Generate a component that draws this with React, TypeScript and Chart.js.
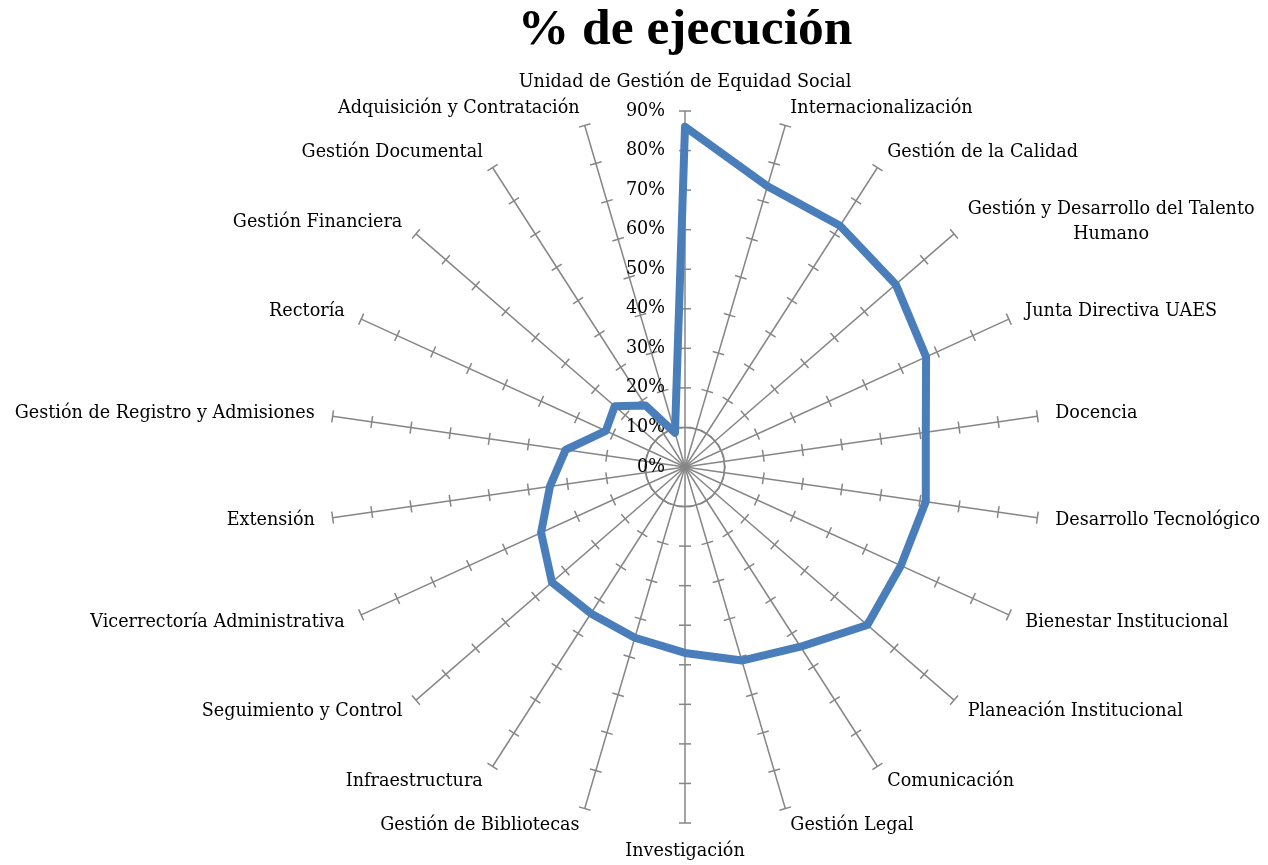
import React, { useEffect, useRef } from "react";
import { Chart, registerables } from "chart.js";

Chart.register(...registerables);

const categories: (string | string[])[] = [
  "Unidad de Gestión de Equidad Social",
  "Internacionalización",
  "Gestión de la Calidad",
  ["Gestión y Desarrollo del Talento", "Humano"],
  "Junta Directiva UAES",
  "Docencia",
  "Desarrollo Tecnológico",
  "Bienestar Institucional",
  "Planeación Institucional",
  "Comunicación",
  "Gestión Legal",
  "Investigación",
  "Gestión de Bibliotecas",
  "Infraestructura",
  "Seguimiento y Control",
  "Vicerrectoría Administrativa",
  "Extensión",
  "Gestión de Registro y Admisiones",
  "Rectoría",
  "Gestión Financiera",
  "Gestión Documental",
  "Adquisición y Contratación",
];

const ejecucion = [
  86, 74, 72.5, 70.5, 67, 61.5, 61.5, 60, 61, 54, 51, 47, 45, 44, 44.5, 40,
  34.5, 30.5, 22, 23.5, 18.5, 9,
];

const tickValues = [0, 10, 20, 30, 40, 50, 60, 70, 80, 90];
const tickLabels = ["0%", "10%", "20%", "30%", "40%", "50%", "60%", "70%", "80%", "90%"];

const AXIS_COLOR = "#868686";
const LINE_COLOR = "#4A7EBB";
const LABEL_FONT_SIZE = 17.6;
const LABEL_FONT = `${LABEL_FONT_SIZE}px "DejaVu Serif"`;

const radarDecor = {
  id: "radarDecor",
  beforeDatasetsDraw(chart: any) {
    const s = chart.scales.r;
    const ctx = chart.ctx as CanvasRenderingContext2D;
    const labels = chart.data.labels as (string | string[])[];
    const n = labels.length;
    ctx.save();
    // tick marks across each spoke
    ctx.strokeStyle = AXIS_COLOR;
    ctx.lineWidth = 1.5;
    for (let i = 0; i < n; i++) {
      for (const v of tickValues) {
        if (v === tickValues[0]) continue;
        const d = s.getDistanceFromCenterForValue(v);
        const p = s.getPointPosition(i, d);
        const px = -Math.sin(p.angle);
        const py = Math.cos(p.angle);
        ctx.beginPath();
        ctx.moveTo(p.x - px * 6, p.y - py * 6);
        ctx.lineTo(p.x + px * 6, p.y + py * 6);
        ctx.stroke();
      }
    }
    // tick labels
    ctx.font = LABEL_FONT;
    ctx.fillStyle = "#000";
    ctx.textAlign = "right";
    ctx.textBaseline = "middle";
    tickValues.forEach((v, k) => {
      const d = s.getDistanceFromCenterForValue(v);
      ctx.fillText(tickLabels[k], s.xCenter - 20, s.yCenter - d);
    });
    // point labels
    const R = s.drawingArea;
    const lh = 25;
    for (let i = 0; i < n; i++) {
      const lab = labels[i];
      const lines = Array.isArray(lab) ? lab : [lab];
      let deg = (s.getIndexAngle(i) * 180) / Math.PI;
      deg = ((deg % 360) + 360) % 360;
      const widths = lines.map((l) => ctx.measureText(l).width);
      const maxW = Math.max(...widths);
      if (Math.abs(deg) < 0.5 || Math.abs(deg - 360) < 0.5) {
        const p = s.getPointPosition(i, R + 20);
        ctx.textAlign = "center";
        ctx.textBaseline = "bottom";
        lines.forEach((l, k) => ctx.fillText(l, p.x, p.y - (lines.length - 1 - k) * lh));
      } else if (Math.abs(deg - 180) < 0.5) {
        const p = s.getPointPosition(i, R + 20);
        ctx.textAlign = "center";
        ctx.textBaseline = "top";
        lines.forEach((l, k) => ctx.fillText(l, p.x, p.y + k * lh));
      } else {
        const p = s.getPointPosition(i, R + 18);
        const left = deg < 180 ? p.x : p.x - maxW;
        ctx.textAlign = "center";
        ctx.textBaseline = "middle";
        const y0 = p.y - ((lines.length - 1) * lh) / 2;
        lines.forEach((l, k) => ctx.fillText(l, left + maxW / 2, y0 + k * lh));
      }
    }
    ctx.restore();
  },
};

export default function App() {
  const ref = useRef<HTMLCanvasElement | null>(null);
  useEffect(() => {
    if (!ref.current) return;
    const chart = new Chart(ref.current, {
      type: "radar",
      data: {
        labels: categories as any,
        datasets: [
          {
            label: "% de ejecución",
            data: ejecucion,
            borderColor: LINE_COLOR,
            backgroundColor: "transparent",
            borderWidth: 8,
            borderJoinStyle: "round",
            pointRadius: 0,
            pointHoverRadius: 0,
            fill: false,
            tension: 0,
            clip: false as any,
          },
        ],
      },
      options: {
        responsive: false,
        animation: false,
        devicePixelRatio: 1,
        layout: { padding: { left: 329, right: 227, top: 0, bottom: 42 } },
        plugins: {
          legend: { display: false },
          tooltip: { enabled: false },
          title: {
            display: true,
            text: "% de ejecución",
            color: "#000",
            font: { family: '"Liberation Serif"', size: 51.5, weight: "bold" },
            padding: { top: 0, bottom: 49.2 },
          },
        },
        scales: {
          r: {
            min: 0,
            max: 90,
            beginAtZero: true,
            ticks: { display: false, stepSize: 10 },
            pointLabels: { display: false },
            angleLines: { display: true, color: AXIS_COLOR, lineWidth: 1.5 },
            grid: {
              circular: true,
              lineWidth: 1.5,
              color: (c: any) => (c.index === 1 ? AXIS_COLOR : "rgba(0,0,0,0)"),
            },
          },
        },
      },
      plugins: [radarDecor],
    });
    return () => chart.destroy();
  }, []);
  return (
    <div style={{ position: "absolute", left: 0, top: 0, width: 1268, height: 865, background: "#fff" }}>
      <canvas ref={ref} width={1268} height={865} style={{ display: "block" }} />
    </div>
  );
}
